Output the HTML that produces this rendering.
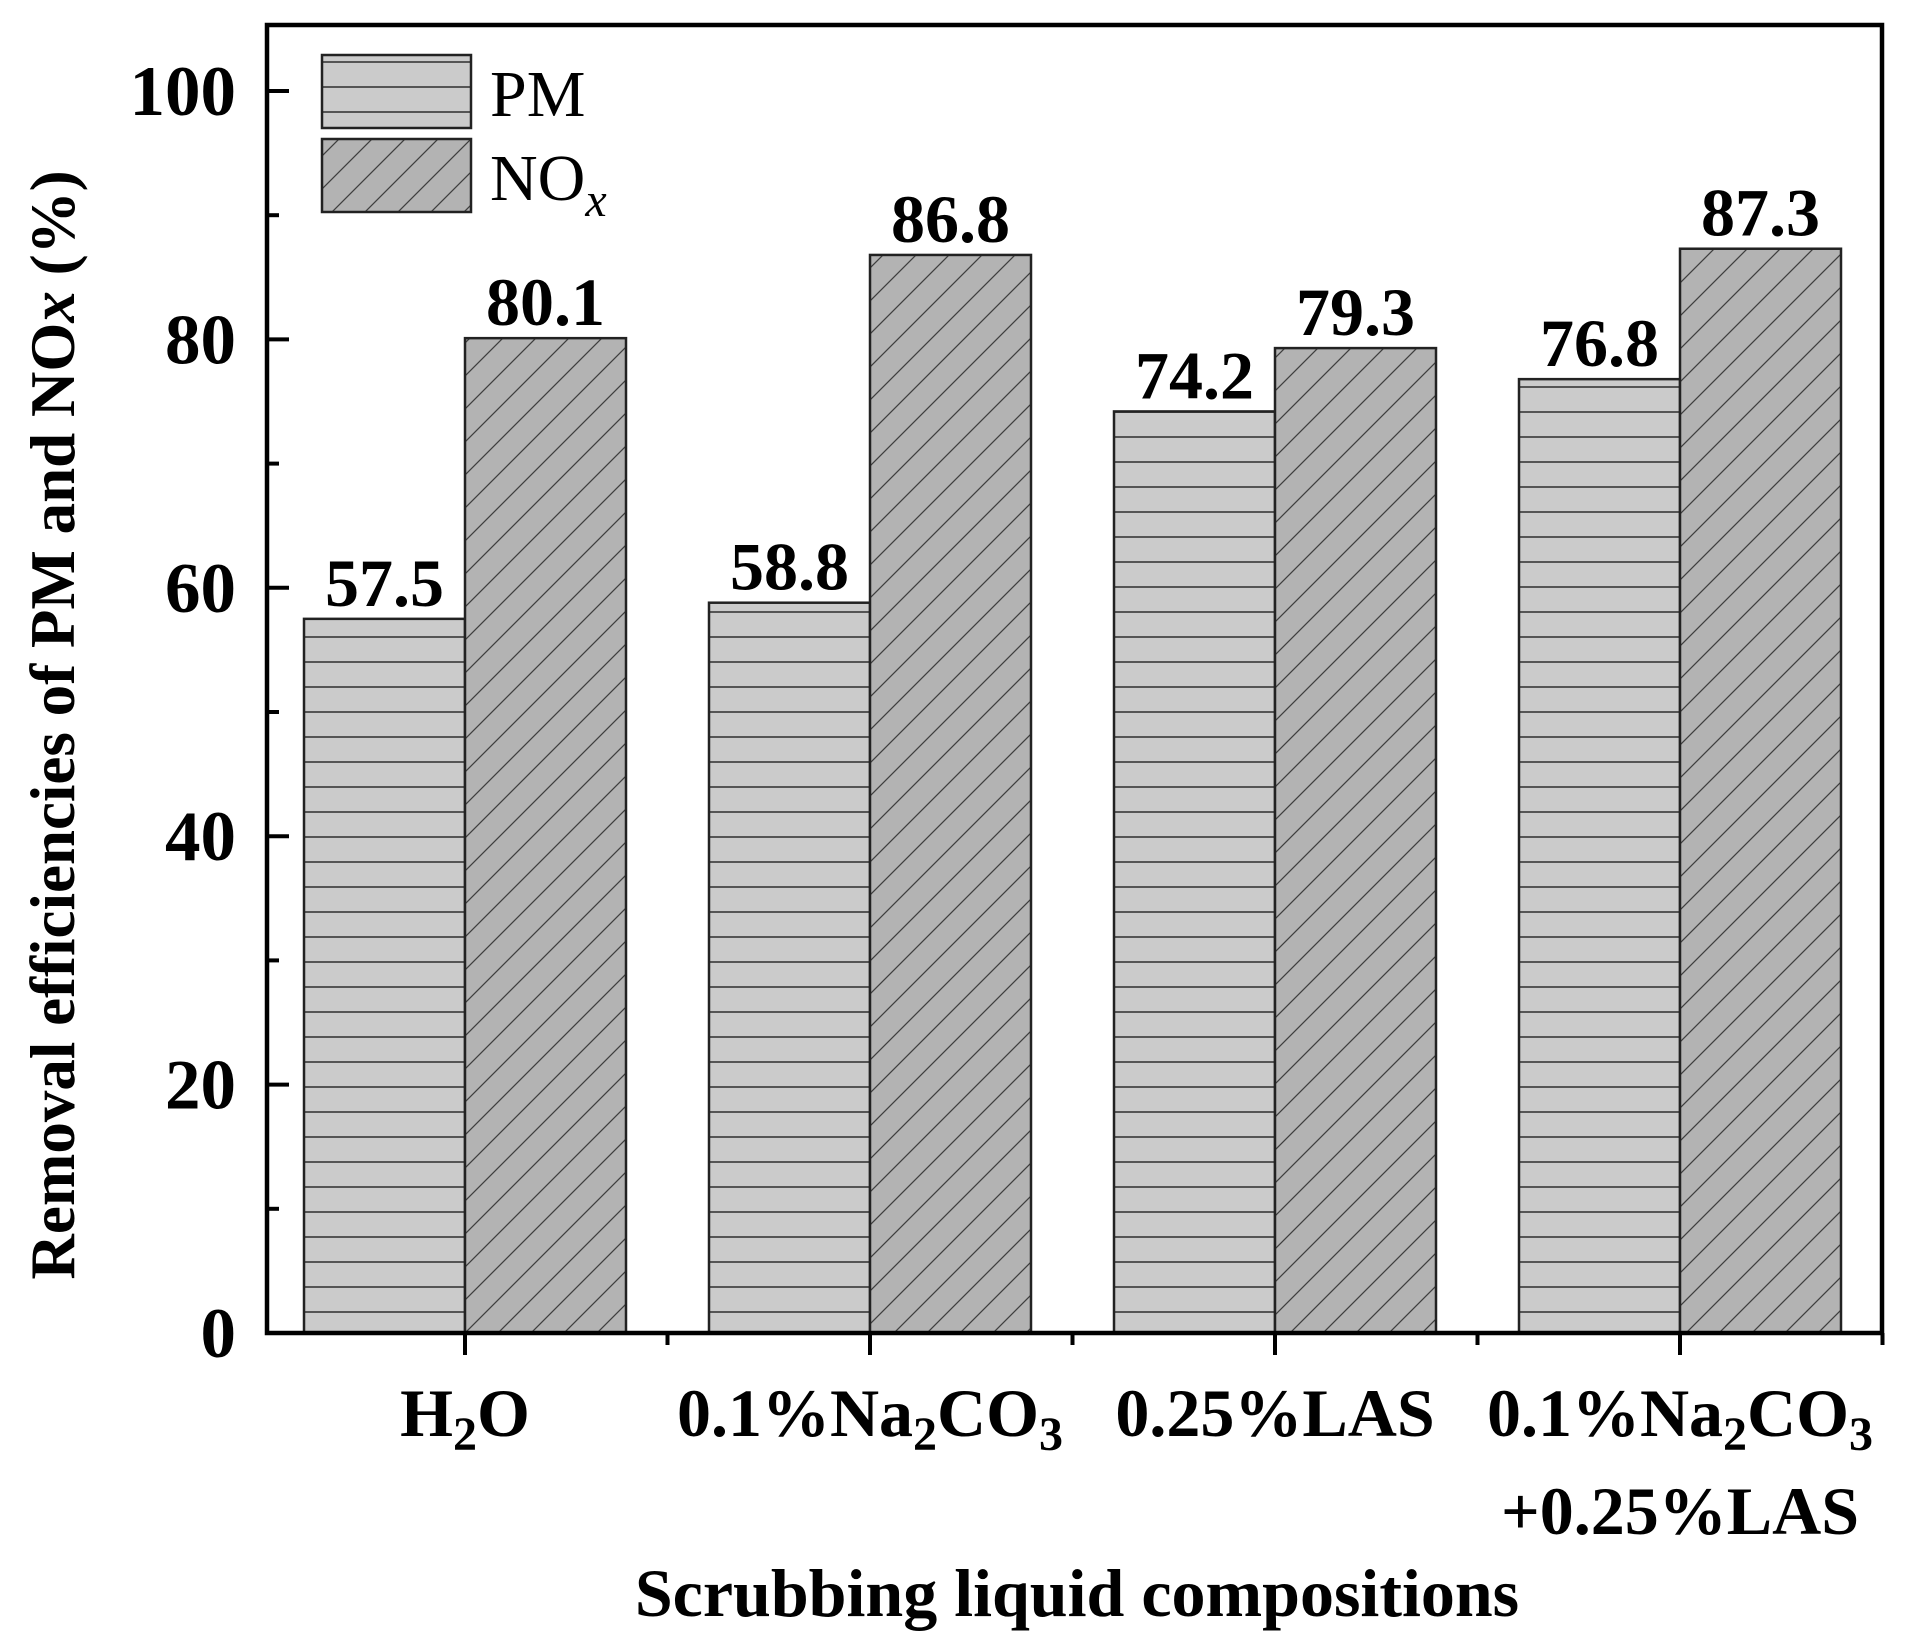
<!DOCTYPE html>
<html><head><meta charset="utf-8"><style>
html,body{margin:0;padding:0;background:#fff}
svg{display:block}
text{font-family:"Liberation Serif",serif;fill:#000}
</style></head><body>
<svg id="chart" width="1910" height="1645" viewBox="0 0 1910 1645" xmlns="http://www.w3.org/2000/svg">
<defs>
<pattern id="hpat" patternUnits="userSpaceOnUse" width="20" height="25"><rect width="20" height="25" fill="#cbcbcb"/><line x1="0" y1="12" x2="20" y2="12" stroke="#555" stroke-width="2"/></pattern>
<pattern id="dpat" patternUnits="userSpaceOnUse" width="33" height="33" patternTransform="skewX(-45)"><rect width="33" height="33" fill="#b3b3b3"/><line x1="16" y1="0" x2="16" y2="33" stroke="#333" stroke-width="1.6"/></pattern>
</defs>
<g id="bars"></g>
<g id="axes"></g>
<text x="1077" y="1616" font-size="68" font-weight="bold" text-anchor="middle">Scrubbing liquid compositions</text>
<text transform="translate(74,725) rotate(-90)" font-size="63" font-weight="bold" text-anchor="middle">Removal efficiencies of PM and NO<tspan font-style="italic">x</tspan> (%)</text>
<g>
<rect x="322" y="55" width="149" height="73" fill="url(#hpat)" stroke="#222" stroke-width="2.5"/>
<text x="490" y="116" font-size="66">PM</text>
<rect x="322" y="139" width="149" height="73" fill="url(#dpat)" stroke="#222" stroke-width="2.5"/>
<text x="490" y="200" font-size="66">NO<tspan font-size="48" font-style="italic" dy="16">x</tspan></text>
</g>
<g>
<text x="465" y="1436" font-size="68" font-weight="bold" text-anchor="middle">H<tspan font-size="48" dy="14">2</tspan><tspan dy="-14">O</tspan></text>
<text x="870" y="1436" font-size="68" font-weight="bold" text-anchor="middle">0.1%Na<tspan font-size="48" dy="14">2</tspan><tspan dy="-14">CO</tspan><tspan font-size="48" dy="14">3</tspan></text>
<text x="1275" y="1436" font-size="68" font-weight="bold" text-anchor="middle">0.25%LAS</text>
<text x="1680" y="1436" font-size="68" font-weight="bold" text-anchor="middle">0.1%Na<tspan font-size="48" dy="14">2</tspan><tspan dy="-14">CO</tspan><tspan font-size="48" dy="14">3</tspan></text>
<text x="1680" y="1534" font-size="68" font-weight="bold" text-anchor="middle">+0.25%LAS</text>
</g>
</svg>
<script>
const categories = ["H2O","0.1%Na2CO3","0.25%LAS","0.1%Na2CO3+0.25%LAS"];
const pmValues = [57.5, 58.8, 74.2, 76.8];
const noxValues = [80.1, 86.8, 79.3, 87.3];
const yTicks = [0, 20, 40, 60, 80, 100];
const yMinorTicks = [10, 30, 50, 70, 90];

const NS = "http://www.w3.org/2000/svg";
const L = 267, R = 1882, T = 25, B = 1333;
const y = v => B - v * 12.42;
const xc = i => 465 + i * 405;
const BW = 161;
function mk(tag, attrs, parent) {
  const e = document.createElementNS(NS, tag);
  for (const k in attrs) e.setAttribute(k, attrs[k]);
  parent.appendChild(e);
  return e;
}
const bars = document.getElementById('bars');
const axes = document.getElementById('axes');
const svg = document.getElementById('chart');
categories.forEach((c, i) => {
  const p = mk('rect', {x: xc(i) - BW, y: y(pmValues[i]), width: BW, height: B - y(pmValues[i]), fill: 'url(#hpat)', stroke: '#222', 'stroke-width': 2.5}, bars);
  
  
  const n = mk('rect', {x: xc(i), y: y(noxValues[i]), width: BW, height: B - y(noxValues[i]), fill: 'url(#dpat)', stroke: '#222', 'stroke-width': 2.5}, bars);
  
  
  const t1 = mk('text', {x: xc(i) - BW / 2, y: y(pmValues[i]) - 13, 'font-size': 68, 'font-weight': 'bold', 'text-anchor': 'middle'}, svg);
  t1.textContent = pmValues[i].toFixed(1);
  
  
  const t2 = mk('text', {x: xc(i) + BW / 2, y: y(noxValues[i]) - 13, 'font-size': 68, 'font-weight': 'bold', 'text-anchor': 'middle'}, svg);
  t2.textContent = noxValues[i].toFixed(1);
  
  
  const tk = mk('line', {x1: xc(i), x2: xc(i), y1: B, y2: B + 22, stroke: '#000', 'stroke-width': 4}, axes);
  
  
  const mt = mk('line', {x1: xc(i) + 202.5, x2: xc(i) + 202.5, y1: B, y2: B + 12, stroke: '#000', 'stroke-width': 4}, axes);
  
  
});
const frame = mk('rect', {x: L, y: T, width: R - L, height: B - T, fill: 'none', stroke: '#000', 'stroke-width': 4.5}, axes);


yTicks.forEach(v => {
  const l = mk('line', {x1: L, x2: L + 22, y1: y(v), y2: y(v), stroke: '#000', 'stroke-width': 4}, axes);
  
  
  const t = mk('text', {x: 236, y: y(v) + 24, 'font-size': 71, 'font-weight': 'bold', 'text-anchor': 'end'}, svg);
  t.textContent = v;
  
  
});
yMinorTicks.forEach(v => {
  const l = mk('line', {x1: L, x2: L + 12, y1: y(v), y2: y(v), stroke: '#000', 'stroke-width': 4}, axes);
  
  
});
</script>
</body></html>
